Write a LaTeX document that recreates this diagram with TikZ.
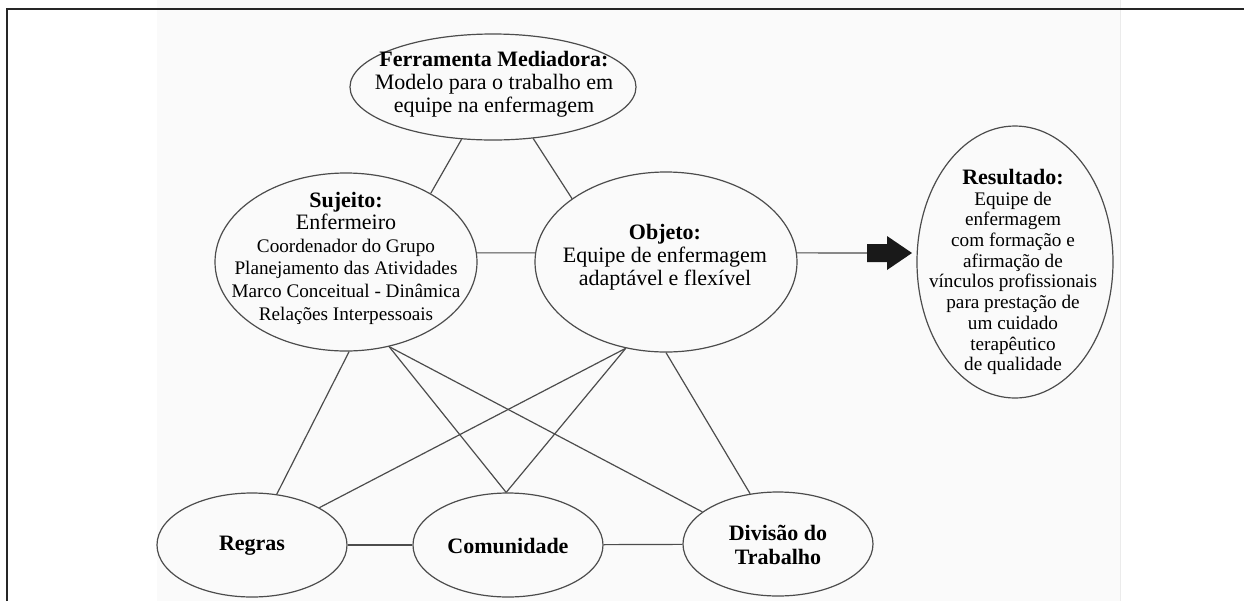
\documentclass[tikz,border=0pt]{standalone}
\usepackage{fontspec}
\setmainfont{Liberation Serif}
\usetikzlibrary{shapes.geometric}

\begin{document}
\begin{tikzpicture}[x=0.5pt,y=-0.5pt]
\tikzstyle{elipse} = [draw=black!70, line width=0.6pt, ellipse, inner sep=0pt]
\tikzstyle{linha} = [draw=black!70, line width=0.6pt]
\tikzstyle{grande} = [align=center, font=\fontsize{11}{11.6}\selectfont]
\useasboundingbox (0,0) rectangle (1244,601);
\fill[black!2] (157,0) rectangle (1120,601);
\draw[black!8] (1120,0) -- (1120,601);
\draw[line width=1pt, black!85] (7,601) -- (7,9) -- (1244,9);
\node[elipse, minimum width=143pt, minimum height=53pt] (v1) at (493,87) {};
\node[elipse, minimum width=131pt, minimum height=89pt] (v2) at (346,262) {};
\node[elipse, minimum width=131pt, minimum height=90pt] (v3) at (666,262) {};
\node[elipse, minimum width=98pt, minimum height=136pt] (v4) at (1015,262) {};
\node[elipse, minimum width=95pt, minimum height=52pt] (v5) at (252,545) {};
\node[elipse, minimum width=95pt, minimum height=52pt] (v6) at (508,545) {};
\node[elipse, minimum width=95pt, minimum height=52pt] (v7) at (778,544) {};
\node[grande] (t1) at (494,84) {\textbf{Ferramenta Mediadora:}\\ Modelo para o trabalho em\\ equipe na enfermagem};
\node[align=center, font=\fontsize{9.6}{11.3}\selectfont] (t2) at (346,258) {{\fontsize{11}{11.3}\selectfont\textbf{Sujeito:}}\\ {\fontsize{11}{11.3}\selectfont Enfermeiro}\\ Coordenador do Grupo\\ Planejamento das Atividades\\ Marco Conceitual - Dinâmica\\ Relações Interpessoais};
\node[grande] (t3) at (665,257) {\textbf{Objeto:}\\ Equipe de enfermagem\\ adaptável e flexível};
\node[align=center, font=\fontsize{9.6}{10.35}\selectfont] (t4) at (1013,272) {{\fontsize{11}{10.35}\selectfont\textbf{Resultado:}}\\ Equipe de\\ enfermagem\\ com formação e\\ afirmação de\\ vínculos profissionais\\ para prestação de\\ um cuidado\\ terapêutico\\ de qualidade};
\node[grande] (t5) at (252,546) {\textbf{Regras}};
\node[grande] (t6) at (508,546) {\textbf{Comunidade}};
\node[grande] (t7) at (778,545) {\textbf{Divisão do}\\ \textbf{Trabalho}};
\coordinate (seta) at (867,253);
\draw[linha] (v1.239) -- (v2.39);
\draw[linha] (v1.308) -- (v3.146);
\draw[linha] (v2.4) -- (v3.176);
\draw[linha] (v3.4) -- (seta);
\fill[black!90] (seta) ++(0,-9) -- ++(20,0) -- ++(0,-8) -- ++(25,17) -- ++(-25,17) -- ++(0,-8) -- ++(-20,0) -- cycle;
\draw[linha] (v2.272) -- (v5.64);
\draw[linha] (v2.297) -- (v6.92);
\draw[linha] (v2.297) -- (v7.157);
\draw[linha] (v3.245) -- (v5.29);
\draw[linha] (v3.245) -- (v6.92);
\draw[linha] (v3.270) -- (v7.119);
\draw[linha] (v5) -- (v6);
\draw[linha] (v6) -- (v7);
\end{tikzpicture}
\end{document}
